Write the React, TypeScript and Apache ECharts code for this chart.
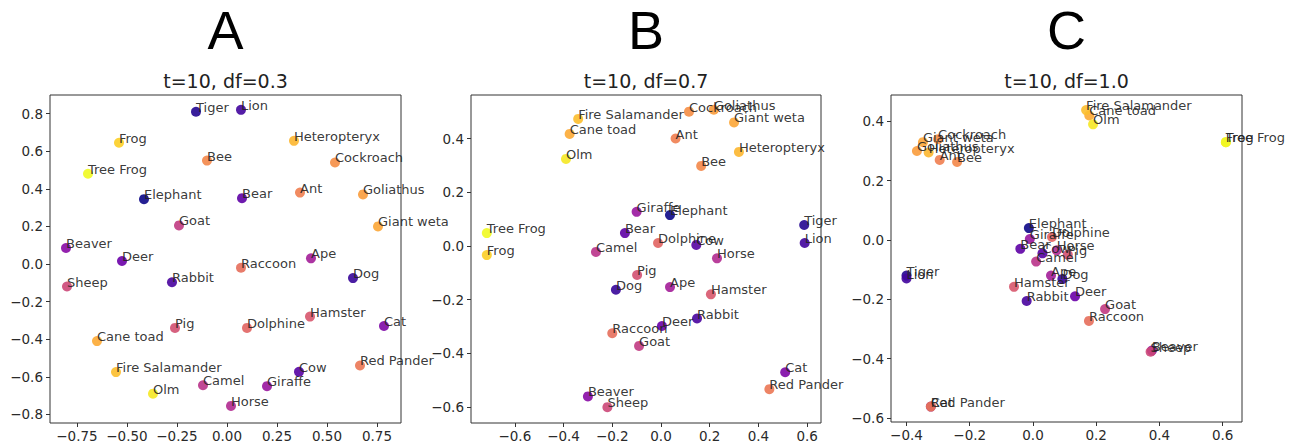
import React, { useEffect, useRef } from 'react';
import * as echarts from 'echarts';

const names = ['Tiger','Lion','Frog','Heteropteryx','Tree Frog','Bee','Cockroach','Elephant','Bear','Ant','Goliathus','Goat','Giant weta','Beaver','Deer','Ape','Raccoon','Dog','Sheep','Rabbit','Pig','Hamster','Dolphine','Cat','Cane toad','Red Pander','Fire Salamander','Cow','Camel','Giraffe','Olm','Horse'];

// colour value (0..1 on the plasma colormap) for each animal
const colorValue = [0.04,0.1,0.9,0.84,1.0,0.71,0.73,0.0,0.17,0.68,0.77,0.46,0.8,0.28,0.2,0.36,0.63,0.08,0.5,0.12,0.53,0.55,0.6,0.25,0.81,0.66,0.86,0.15,0.43,0.33,0.96,0.4];

const xA = [-0.155,0.07,-0.54,0.335,-0.695,-0.10,0.54,-0.415,0.075,0.365,0.68,-0.24,0.755,-0.805,-0.525,0.42,0.07,0.63,-0.80,-0.275,-0.26,0.415,0.10,0.785,-0.65,0.665,-0.555,0.36,-0.12,0.20,-0.37,0.02];
const yA = [0.81,0.82,0.645,0.655,0.48,0.55,0.54,0.345,0.35,0.38,0.37,0.205,0.20,0.085,0.016,0.03,-0.02,-0.075,-0.12,-0.097,-0.34,-0.28,-0.34,-0.33,-0.41,-0.54,-0.575,-0.574,-0.645,-0.65,-0.69,-0.755];

const xB = [0.588,0.59,-0.715,0.32,-0.715,0.165,0.115,0.037,-0.148,0.06,0.217,-0.09,0.30,-0.30,0.004,0.037,-0.20,-0.185,-0.22,0.148,-0.098,0.205,-0.012,0.51,-0.375,0.445,-0.34,0.145,-0.267,-0.10,-0.39,0.23];
const yB = [0.078,0.011,-0.034,0.35,0.048,0.298,0.50,0.115,0.048,0.40,0.507,-0.372,0.46,-0.56,-0.298,-0.153,-0.325,-0.163,-0.60,-0.27,-0.108,-0.18,0.011,-0.47,0.417,-0.533,0.473,0.004,-0.022,0.127,0.324,-0.046];

const xC = [-0.40,-0.40,0.61,-0.33,0.61,-0.24,-0.30,-0.013,-0.04,-0.295,-0.367,0.228,-0.348,0.376,0.133,0.057,0.177,0.093,0.372,-0.02,0.11,-0.06,0.06,-0.323,0.178,-0.323,0.168,0.03,0.01,-0.01,0.19,0.075];
const yC = [-0.12,-0.13,0.33,0.295,0.33,0.263,0.34,0.04,-0.03,0.27,0.30,-0.233,0.33,-0.373,-0.19,-0.12,-0.273,-0.132,-0.377,-0.206,-0.05,-0.158,0.01,-0.562,0.42,-0.562,0.438,-0.045,-0.073,0.003,0.39,-0.035];

const panelLetters = ['A', 'B', 'C'];
const panelSubtitles = ['t=10, df=0.3', 't=10, df=0.7', 't=10, df=1.0'];

const xTicksA = [-0.75, -0.5, -0.25, 0, 0.25, 0.5, 0.75];
const yTicksA = [-0.8, -0.6, -0.4, -0.2, 0, 0.2, 0.4, 0.6, 0.8];
const xTicksB = [-0.6, -0.4, -0.2, 0, 0.2, 0.4, 0.6];
const yTicksB = [-0.6, -0.4, -0.2, 0, 0.2, 0.4];
const xTicksC = [-0.4, -0.2, 0, 0.2, 0.4, 0.6];
const yTicksC = [-0.6, -0.4, -0.2, 0, 0.2, 0.4];

const plasma = ['#0d0887','#41049d','#6a00a8','#8f0da4','#b12a90','#cc4778','#e16462','#f2844b','#fca636','#fcce25','#f0f921'];

const FONT = 'DejaVu Sans';

function fmt(decimals: number) {
  return (v: number) => {
    const s = Math.abs(v).toFixed(decimals);
    return (v < -1e-9 ? '\u2212' : '') + s;
  };
}

export default function App() {
  const ref = useRef<HTMLDivElement>(null);
  useEffect(() => {
    if (!ref.current) return;
    const chart = echarts.init(ref.current, null, { renderer: 'svg' });

    const grids = [
      { left: 50, top: 95, width: 351, height: 328 },
      { left: 471, top: 95, width: 350, height: 328 },
      { left: 891, top: 95, width: 351, height: 327 },
    ];
    const xs = [xA, xB, xC];
    const ys = [yA, yB, yC];
    const xRanges = [[-0.885, 0.87], [-0.78, 0.657], [-0.449, 0.661]];
    const yRanges = [[-0.846, 0.899], [-0.659, 0.562], [-0.614, 0.489]];
    const xTicks = [xTicksA, xTicksB, xTicksC];
    const yTicks = [yTicksA, yTicksB, yTicksC];
    const xDec = [2, 1, 1];

    const axisCommon = (ticks: number[], dec: number, isX: boolean) => ({
      type: 'value',
      splitLine: { show: false },
      axisLine: { show: false, onZero: false },
      axisTick: { show: true, customValues: ticks, length: 4, lineStyle: { color: '#333', width: 1 } },
      axisLabel: {
        customValues: ticks,
        formatter: fmt(dec),
        margin: isX ? 6 : 7,
        fontSize: 13.5,
        color: '#2a2a2a',
        fontFamily: FONT,
      },
    });

    const option: any = {
      animation: false,
      backgroundColor: '#fff',
      grid: grids.map((g) => ({ ...g, show: true, borderColor: '#333', borderWidth: 1, backgroundColor: 'transparent' })),
      xAxis: [0, 1, 2].map((i) => ({
        gridIndex: i,
        min: xRanges[i][0],
        max: xRanges[i][1],
        ...axisCommon(xTicks[i], xDec[i], true),
      })),
      yAxis: [0, 1, 2].map((i) => ({
        gridIndex: i,
        min: yRanges[i][0],
        max: yRanges[i][1],
        ...axisCommon(yTicks[i], 1, false),
      })),
      visualMap: {
        type: 'continuous',
        show: false,
        min: 0,
        max: 1,
        dimension: 2,
        seriesIndex: [0, 1, 2],
        inRange: { color: plasma },
      },
      series: [0, 1, 2].map((i) => ({
        type: 'scatter',
        xAxisIndex: i,
        yAxisIndex: i,
        symbolSize: 10,
        itemStyle: { opacity: 0.9 },
        data: names.map((n, k) => ({ name: n, value: [xs[i][k], ys[i][k], colorValue[k]] })),
        label: {
          show: true,
          formatter: '{b}',
          position: [5, 7],
          align: 'left',
          verticalAlign: 'bottom',
          fontSize: 13,
          color: '#222',
          fontFamily: FONT,
        },
        emphasis: { disabled: true },
      })),
      graphic: [
        ...panelLetters.map((t, i) => ({
          type: 'text',
          x: grids[i].left + grids[i].width / 2,
          y: 30,
          style: { text: t, fontSize: 54, fontFamily: 'Liberation Sans', fill: '#000', textAlign: 'center', textVerticalAlign: 'middle' },
        })),
        ...panelSubtitles.map((t, i) => ({
          type: 'text',
          x: grids[i].left + grids[i].width / 2,
          y: 81,
          style: { text: t, fontSize: 19, fontFamily: FONT, fill: '#222', textAlign: 'center', textVerticalAlign: 'middle' },
        })),
      ],
    };
    chart.setOption(option);
    return () => chart.dispose();
  }, []);
  return <div ref={ref} style={{ position: 'absolute', left: 0, top: 0, width: 1301, height: 447 }} />;
}
